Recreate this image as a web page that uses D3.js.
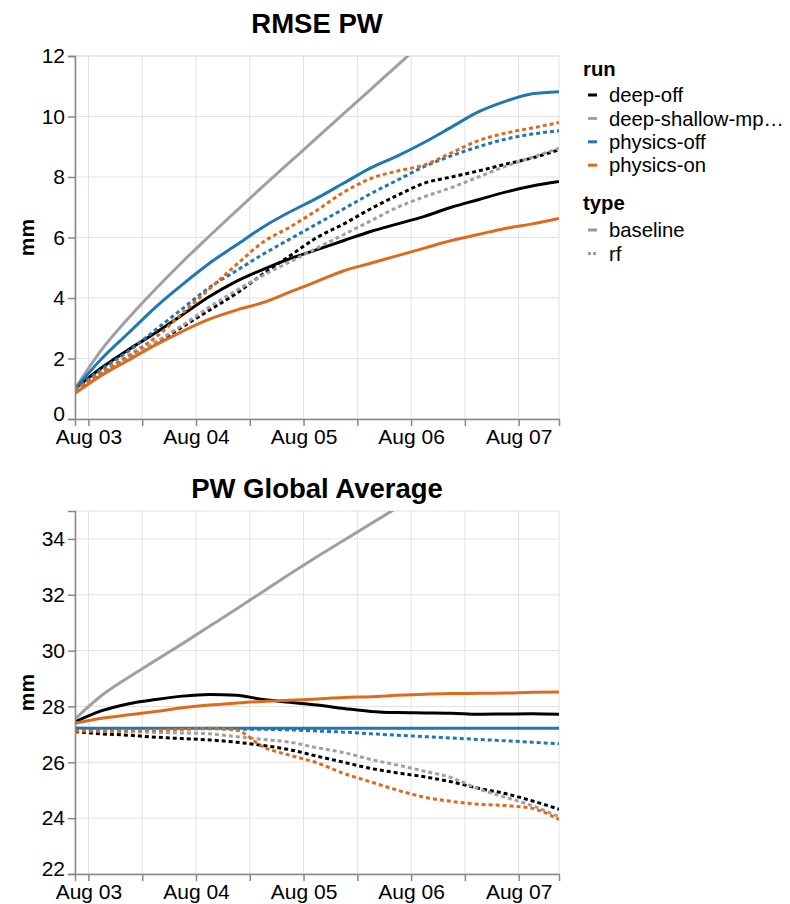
<!DOCTYPE html>
<html>
<head>
<meta charset="utf-8">
<script src="https://cdn.jsdelivr.net/npm/d3@7"></script>
<style>
  body { margin: 0; background: #fff; }
  text { font-family: "Liberation Sans", Arial, Helvetica, sans-serif; fill: #000; }
</style>
</head>
<body>
<script>
// ---- data (6-hourly) ----
const times = [
  "2016-08-02T21:00:00Z", "2016-08-03T03:00:00Z", "2016-08-03T09:00:00Z", "2016-08-03T15:00:00Z",
  "2016-08-03T21:00:00Z", "2016-08-04T03:00:00Z", "2016-08-04T09:00:00Z", "2016-08-04T15:00:00Z",
  "2016-08-04T21:00:00Z", "2016-08-05T03:00:00Z", "2016-08-05T09:00:00Z", "2016-08-05T15:00:00Z",
  "2016-08-05T21:00:00Z", "2016-08-06T03:00:00Z", "2016-08-06T09:00:00Z", "2016-08-06T15:00:00Z",
  "2016-08-06T21:00:00Z", "2016-08-07T03:00:00Z", "2016-08-07T09:00:00Z"
];

const runs = ["deep-off", "deep-shallow-mp", "physics-off", "physics-on"];
const runLabels = ["deep-off", "deep-shallow-mp\u2026", "physics-off", "physics-on"];
const runColors = ["#000000", "#a0a0a0", "#1f77b4", "#de6b1c"];
const types = ["baseline", "rf"];

// RMSE PW (mm)
const rmseDeepOffBaseline = [1.0, 1.7, 2.3, 2.85, 3.45, 4.05, 4.55, 4.95, 5.3, 5.6, 5.9, 6.2, 6.45, 6.7, 7.0, 7.25, 7.5, 7.7, 7.85];
const rmseDeepOffRf = [1.0, 1.5, 2.0, 2.5, 3.05, 3.6, 4.15, 4.8, 5.4, 6.0, 6.45, 6.95, 7.4, 7.8, 8.0, 8.2, 8.42, 8.63, 8.9];
const rmseDeepShallowBaseline = [1.0, 2.3, 3.35, 4.3, 5.2, 6.05, 6.88, 7.7, 8.5, 9.3, 10.1, 10.9, 11.7, 12.5, 13.3, 14.0, 14.8, 15.5, 16.2];
const rmseDeepShallowRf = [1.0, 1.5, 2.05, 2.55, 3.1, 3.7, 4.25, 4.75, 5.2, 5.65, 6.1, 6.55, 7.0, 7.35, 7.65, 8.0, 8.35, 8.65, 8.95];
const rmsePhysicsOffBaseline = [1.0, 2.0, 2.85, 3.7, 4.45, 5.15, 5.75, 6.35, 6.85, 7.3, 7.8, 8.3, 8.7, 9.15, 9.65, 10.15, 10.5, 10.75, 10.82];
const rmsePhysicsOffRf = [1.0, 1.65, 2.25, 2.95, 3.65, 4.35, 4.9, 5.45, 5.95, 6.45, 6.95, 7.45, 7.9, 8.35, 8.7, 9.0, 9.25, 9.42, 9.53];
const rmsePhysicsOnBaseline = [0.85, 1.45, 1.95, 2.45, 2.9, 3.3, 3.6, 3.85, 4.2, 4.55, 4.9, 5.15, 5.4, 5.65, 5.9, 6.1, 6.3, 6.45, 6.63];
const rmsePhysicsOnRf = [0.95, 1.55, 2.1, 2.7, 3.5, 4.3, 5.1, 5.85, 6.35, 6.9, 7.5, 7.95, 8.2, 8.4, 8.8, 9.2, 9.45, 9.62, 9.8];

// PW global average (mm)
const avgDeepOffBaseline = [27.45, 27.85, 28.1, 28.25, 28.37, 28.43, 28.4, 28.25, 28.15, 28.05, 27.93, 27.82, 27.78, 27.77, 27.76, 27.72, 27.73, 27.74, 27.72];
const avgDeepOffRf = [27.1, 27.02, 26.97, 26.9, 26.85, 26.8, 26.72, 26.6, 26.45, 26.22, 26.0, 25.78, 25.62, 25.48, 25.3, 25.07, 24.88, 24.62, 24.32];
const avgDeepShallowBaseline = [27.55, 28.4, 29.05, 29.65, 30.25, 30.87, 31.49, 32.12, 32.75, 33.36, 33.95, 34.54, 35.13, 35.72, 36.3, 36.88, 37.45, 38.0, 38.55];
const avgDeepShallowRf = [27.15, 27.12, 27.1, 27.07, 27.05, 27.02, 26.92, 26.82, 26.72, 26.52, 26.35, 26.1, 25.9, 25.68, 25.45, 25.05, 24.75, 24.45, 24.05];
const avgPhysicsOffBaseline = [27.23, 27.22, 27.22, 27.22, 27.22, 27.22, 27.22, 27.22, 27.22, 27.22, 27.22, 27.22, 27.22, 27.22, 27.22, 27.22, 27.22, 27.22, 27.22];
const avgPhysicsOffRf = [27.2, 27.2, 27.2, 27.2, 27.2, 27.2, 27.19, 27.18, 27.16, 27.12, 27.08, 27.02, 26.97, 26.92, 26.87, 26.82, 26.77, 26.72, 26.66];
const avgPhysicsOnBaseline = [27.4, 27.58, 27.7, 27.82, 27.95, 28.05, 28.12, 28.18, 28.22, 28.27, 28.32, 28.35, 28.4, 28.44, 28.46, 28.47, 28.48, 28.51, 28.52];
const avgPhysicsOnRf = [27.12, 27.12, 27.13, 27.15, 27.18, 27.22, 27.15, 26.55, 26.25, 25.98, 25.6, 25.3, 25.0, 24.75, 24.6, 24.5, 24.45, 24.35, 23.95];

const yTicksRmse = [0, 2, 4, 6, 8, 10, 12];
const yTicksAvg = [22, 24, 26, 28, 30, 32, 34];

// ---- layout ----
const width = 790, height = 904;
const plotLeft = 75, plotRight = 559;

const svg = d3.select('body').append('svg')
  .attr('width', width)
  .attr('height', height);

const parse = d3.utcParse('%Y-%m-%dT%H:%M:%SZ');
const dates = times.map(parse);

const x = d3.scaleUtc()
  .domain([dates[0], dates[dates.length - 1]])
  .range([plotLeft, plotRight]);

function makeSeries(arrays) {
  // arrays: [[baseline, rf] per run]
  const out = [];
  runs.forEach((r, i) => {
    types.forEach((t, j) => {
      out.push({ run: r, type: t, color: runColors[i],
        values: arrays[i][j].map((v, k) => ({ date: dates[k], value: v })) });
    });
  });
  return out;
}

const rmseSeries = makeSeries([
  [rmseDeepOffBaseline, rmseDeepOffRf],
  [rmseDeepShallowBaseline, rmseDeepShallowRf],
  [rmsePhysicsOffBaseline, rmsePhysicsOffRf],
  [rmsePhysicsOnBaseline, rmsePhysicsOnRf]
]);
const avgSeries = makeSeries([
  [avgDeepOffBaseline, avgDeepOffRf],
  [avgDeepShallowBaseline, avgDeepShallowRf],
  [avgPhysicsOffBaseline, avgPhysicsOffRf],
  [avgPhysicsOnBaseline, avgPhysicsOnRf]
]);

const fontSize = 21;
const legendFont = 20.3;

function drawPanel(opts) {
  const { id, title, top, bottom, domain, ticks, series, titleY } = opts;
  const y = d3.scaleLinear().domain(domain).range([bottom, top]);
  const g = svg.append('g');

  // title
  g.append('text')
    .attr('x', (plotLeft + plotRight) / 2)
    .attr('y', titleY)
    .attr('text-anchor', 'middle')
    .style('font-size', '27.5px')
    .style('font-weight', 'bold')
    .text(title);

  // grid
  const gridTicks = x.ticks(d3.utcHour.every(12));
  g.append('g').selectAll('line')
    .data(gridTicks)
    .enter().append('line')
    .attr('x1', d => x(d)).attr('x2', d => x(d))
    .attr('y1', top).attr('y2', bottom)
    .attr('stroke', '#e2e2e2').attr('stroke-width', 1);
  g.append('g').selectAll('line')
    .data(ticks)
    .enter().append('line')
    .attr('x1', plotLeft).attr('x2', plotRight)
    .attr('y1', d => y(d)).attr('y2', d => y(d))
    .attr('stroke', '#e2e2e2').attr('stroke-width', 1);

  // view border
  g.append('rect')
    .attr('x', plotLeft).attr('y', top)
    .attr('width', plotRight - plotLeft).attr('height', bottom - top)
    .attr('fill', 'none').attr('stroke', '#e2e2e2');

  // lines (clipped)
  svg.append('clipPath').attr('id', 'clip-' + id)
    .append('rect')
    .attr('x', plotLeft).attr('y', top)
    .attr('width', plotRight - plotLeft).attr('height', bottom - top);

  const line = d3.line()
    .x(d => x(d.date))
    .y(d => y(d.value))
    .curve(d3.curveMonotoneX);

  g.append('g')
    .attr('clip-path', `url(#clip-${id})`)
    .selectAll('path')
    .data(series)
    .enter().append('path')
    .attr('d', d => line(d.values))
    .attr('fill', 'none')
    .attr('stroke', d => d.color)
    .attr('stroke-width', 3)
    .attr('stroke-dasharray', d => d.type === 'rf' ? '4,3' : null)
    .attr('stroke-linejoin', 'round');

  // y axis
  const yAxis = d3.axisLeft(y).tickValues(ticks).tickSize(7).tickPadding(3);
  const ya = g.append('g')
    .attr('transform', `translate(${plotLeft},0)`)
    .call(yAxis);
  ya.selectAll('text').style('font-size', fontSize + 'px').attr('fill', '#000');
  // keep the lowest label clear of the first date label
  ya.selectAll('.tick').filter(d => d === domain[0]).select('text').attr('y', -5);
  ya.selectAll('line, path').attr('stroke', '#888').attr('stroke-width', 1.5);

  // x axis
  const xAxis = d3.axisBottom(x)
    .ticks(d3.utcHour.every(12))
    .tickSize(7)
    .tickPadding(3)
    .tickFormat(d => d.getUTCHours() === 0 ? d3.utcFormat('%b %d')(d) : '');
  const xa = g.append('g')
    .attr('transform', `translate(0,${bottom})`)
    .call(xAxis);
  xa.selectAll('text').style('font-size', fontSize + 'px').attr('fill', '#000');
  xa.selectAll('line, path').attr('stroke', '#888').attr('stroke-width', 1.5);

  // y title
  g.append('text')
    .attr('transform', `translate(34,${(top + bottom) / 2}) rotate(-90)`)
    .attr('text-anchor', 'middle')
    .style('font-size', fontSize + 'px')
    .style('font-weight', 'bold')
    .text('mm');
}

drawPanel({ id: 'rmse', title: 'RMSE PW', top: 56, bottom: 419, domain: [0, 12],
  ticks: yTicksRmse, series: rmseSeries, titleY: 33 });
drawPanel({ id: 'avg', title: 'PW Global Average', top: 511, bottom: 874, domain: [22, 35],
  ticks: yTicksAvg, series: avgSeries, titleY: 498 });

// ---- legend ----
const legend = svg.append('g').attr('transform', 'translate(583,0)');

legend.append('text')
  .attr('x', 0).attr('y', 76)
  .style('font-size', legendFont + 'px').style('font-weight', 'bold')
  .text('run');

const runRows = legend.append('g').selectAll('g')
  .data(runLabels)
  .enter().append('g')
  .attr('transform', (d, i) => `translate(0,${95 + i * 23.4})`);
runRows.append('line')
  .attr('x1', 5).attr('x2', 14)
  .attr('stroke', (d, i) => runColors[i]).attr('stroke-width', 3);
runRows.append('text')
  .attr('x', 26).attr('dy', '0.35em')
  .style('font-size', legendFont + 'px')
  .text(d => d);

legend.append('text')
  .attr('x', 0).attr('y', 210)
  .style('font-size', legendFont + 'px').style('font-weight', 'bold')
  .text('type');

const typeRows = legend.append('g').selectAll('g')
  .data(types)
  .enter().append('g')
  .attr('transform', (d, i) => `translate(0,${230 + i * 23.4})`);
typeRows.append('line')
  .attr('x1', 5).attr('x2', 14)
  .attr('stroke', '#999').attr('stroke-width', 3)
  .attr('stroke-dasharray', d => d === 'rf' ? '3,2' : null);
typeRows.append('text')
  .attr('x', 26).attr('dy', '0.35em')
  .style('font-size', legendFont + 'px')
  .text(d => d);
</script>
</body>
</html>
